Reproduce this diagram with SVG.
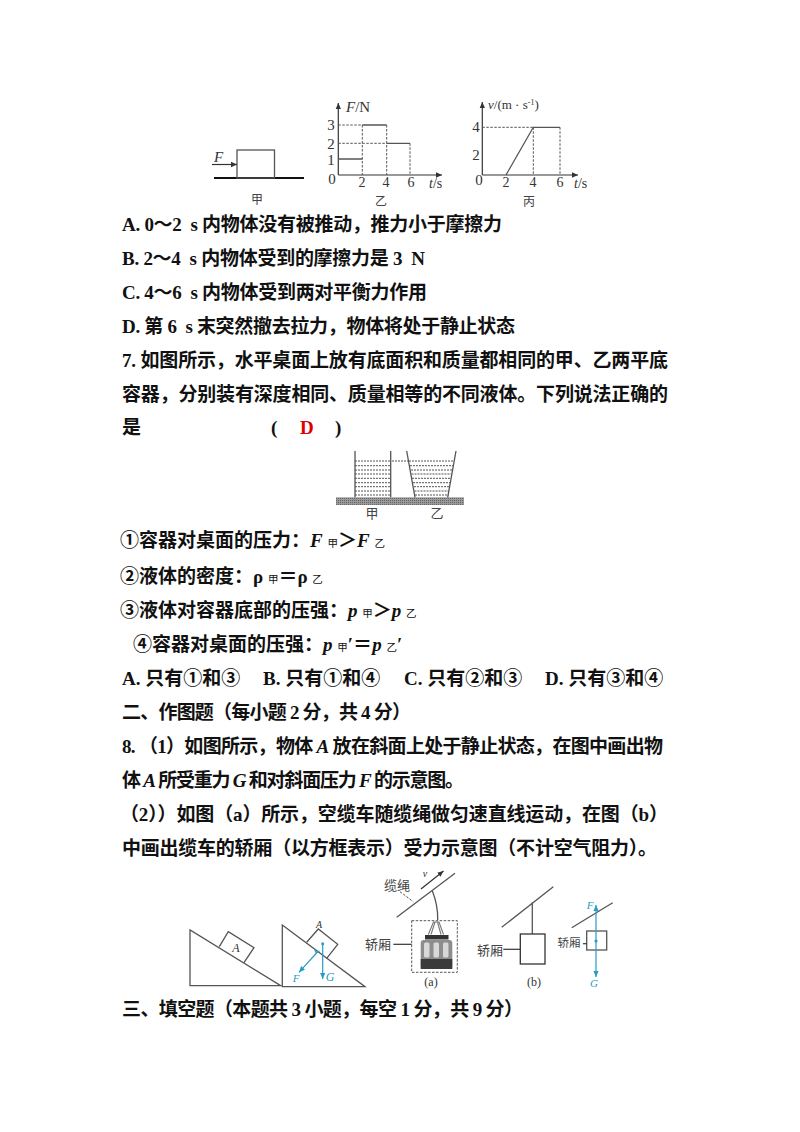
<svg xmlns="http://www.w3.org/2000/svg" width="800" height="1132" viewBox="0 0 800 1132">
<style>
.t{font-family:"Liberation Serif","Noto Sans CJK SC",serif;font-size:19px;font-weight:bold;fill:#111}
.i{font-style:italic}
.s{font-size:10.5px;font-weight:normal}
.n{font-family:"Liberation Serif",serif;font-size:15px;fill:#333}
.c{font-family:"Noto Sans CJK SC",sans-serif;font-size:13px;fill:#444}
.l{stroke:#333;stroke-width:1.2;fill:none}
.g{stroke:#555;stroke-width:1.3;fill:none}
.d{stroke:#555;stroke-width:1;stroke-dasharray:2.5 1.5;fill:none}
.lq{stroke:#555;stroke-width:1;stroke-dasharray:2 1;fill:none}
.b{stroke:#2a9cc4;stroke-width:1.2;fill:none}
.bt{font-family:"Liberation Serif",serif;font-style:italic;font-size:11px;fill:#2a9cc4}
.m{text-anchor:middle}
</style>
<defs>
<marker id="a" markerWidth="6" markerHeight="6" refX="5" refY="3" orient="auto"><path d="M0 .8L5 3L0 5.2z" fill="#333"/></marker>
<marker id="ab" markerWidth="6" markerHeight="6" refX="5" refY="3" orient="auto"><path d="M0 .8L5 3L0 5.2z" fill="#2a9cc4"/></marker>
<pattern id="gr" width="2" height="2" patternUnits="userSpaceOnUse"><rect width="2" height="2" fill="#999"/><rect width="1" height="1" fill="#666"/></pattern>
</defs>

<g id="fig-jia">
<line x1="214" y1="178" x2="304" y2="178" stroke="#111" stroke-width="2.2"/>
<rect x="237" y="150" width="37.5" height="28" class="g"/>
<line x1="212" y1="164.5" x2="237" y2="164.5" class="l" marker-end="url(#a)"/>
<text x="214" y="162" class="n i">F</text>
<text x="257" y="204" class="c m" style="font-size:12px">甲</text>
</g>

<g id="fig-yi">
<line x1="338.3" y1="175" x2="338.3" y2="103" class="l" marker-end="url(#a)"/>
<line x1="338.3" y1="175" x2="442" y2="175" class="l" marker-end="url(#a)"/>
<path d="M338.3 125H362.3M338.3 143.3H386.7M362.3 125V175M386.7 125V175M410 143.3V175" class="d"/>
<path d="M338.3 159H362.3M362.3 125H386.7M386.7 143.3H410" class="g"/>
<text x="346" y="112" class="n"><tspan class="i">F</tspan>/N</text>
<g class="n m"><text x="331" y="130">3</text><text x="331" y="149">2</text><text x="331" y="165">1</text><text x="332" y="184">0</text></g>
<g class="n m" style="font-size:14px"><text x="362" y="187">2</text><text x="386" y="187">4</text><text x="411" y="187">6</text></g>
<text x="429" y="188" class="n" style="font-size:14px"><tspan class="i">t</tspan>/s</text>
<text x="381" y="206" class="c m" style="font-size:12px">乙</text>
</g>

<g id="fig-bing">
<line x1="482.3" y1="175" x2="482.3" y2="102" class="l" marker-end="url(#a)"/>
<line x1="482.3" y1="175" x2="578" y2="175" class="l" marker-end="url(#a)"/>
<path d="M482.3 127.3H533.3M533.3 127.3V175" class="d"/>
<path d="M560 127.3V175" class="d" stroke-dasharray="1 1.5"/>
<path d="M506 175L533.3 127.3H560" class="g"/>
<text x="488" y="109" class="n" style="font-size:13px"><tspan class="i">v</tspan>/(m · s<tspan dy="-4" style="font-size:8px">-1</tspan><tspan dy="4">)</tspan></text>
<g class="n m"><text x="476" y="132">4</text><text x="476" y="160">2</text><text x="479" y="185">0</text></g>
<g class="n m" style="font-size:14px"><text x="506" y="187">2</text><text x="533" y="187">4</text><text x="560" y="187">6</text></g>
<text x="574" y="188" class="n" style="font-size:14px"><tspan class="i">t</tspan>/s</text>
<text x="529" y="206" class="c m" style="font-size:12px">丙</text>
</g>

<g id="text-options-6">
<text x="122" y="231" class="t" textLength="380">A. 0～2&#160;&#160;s 内物体没有被推动，推力小于摩擦力</text>
<text x="122" y="265" class="t" textLength="303">B. 2～4&#160;&#160;s 内物体受到的摩擦力是 3&#160;&#160;N</text>
<text x="122" y="299" class="t" textLength="305">C. 4～6&#160;&#160;s 内物体受到两对平衡力作用</text>
<text x="122" y="333" class="t" textLength="393">D. 第 6&#160;&#160;s 末突然撤去拉力，物体将处于静止状态</text>
</g>

<g id="text-q7">
<text x="122" y="367" class="t" textLength="546">7. 如图所示，水平桌面上放有底面积和质量都相同的甲、乙两平底</text>
<text x="122" y="401" class="t" textLength="546">容器，分别装有深度相同、质量相等的不同液体。下列说法正确的</text>
<text x="122" y="434" class="t">是</text>
<text x="271" y="434" class="t">(</text>
<text x="300" y="434" class="t" style="fill:#e00000">D</text>
<text x="335" y="434" class="t">)</text>
</g>

<g id="fig-containers">
<rect x="336" y="497.3" width="128" height="7.7" fill="url(#gr)"/>
<path d="M355 451V497.3M390.7 451V497.3M406.7 451L415 497.3M456 451L447.7 497.3" class="g"/>
<path d="M355 461H390.7M392 461H408M409 461H454M355 465.7H390.7M410 465.7H453M355 470H390.7M411 470H452M355 474H390.7M411.5 474H451.5M355 478.3H390.7M412 478.3H451M355 482.7H390.7M413 482.7H450M355 486.7H390.7M414 486.7H449.5M355 491H390.7M414.5 491H449M355 495H390.7M415 495H448.5" class="lq"/>
<text x="372" y="518" class="c m">甲</text>
<text x="437" y="518" class="c m">乙</text>
</g>

<g id="text-statements">
<text x="120" y="547" class="t">①容器对桌面的压力：<tspan class="i">F</tspan> <tspan class="s">甲</tspan>＞<tspan class="i">F</tspan> <tspan class="s">乙</tspan></text>
<text x="120" y="583" class="t">②液体的密度：ρ <tspan class="s">甲</tspan>＝ρ <tspan class="s">乙</tspan></text>
<text x="120" y="617" class="t">③液体对容器底部的压强：<tspan class="i">p</tspan> <tspan class="s">甲</tspan>＞<tspan class="i">p</tspan> <tspan class="s">乙</tspan></text>
<text x="133" y="651" class="t">④容器对桌面的压强：<tspan class="i">p</tspan> <tspan class="s">甲</tspan>′＝<tspan class="i">p</tspan> <tspan class="s">乙</tspan>′</text>
<text x="122" y="685" class="t">A. 只有①和③</text>
<text x="263" y="685" class="t">B. 只有①和④</text>
<text x="404" y="685" class="t">C. 只有②和③</text>
<text x="545" y="685" class="t">D. 只有③和④</text>
</g>

<g id="text-section2">
<text x="122" y="719" class="t" textLength="289">二、作图题（每小题 2 分，共 4 分）</text>
<text x="122" y="753" class="t" textLength="541">8. （1）如图所示，物体 <tspan class="i">A</tspan> 放在斜面上处于静止状态，在图中画出物</text>
<text x="122" y="787" class="t" textLength="342">体 <tspan class="i">A</tspan> 所受重力 <tspan class="i">G</tspan> 和对斜面压力 <tspan class="i">F</tspan> 的示意图。</text>
<text x="120" y="821" class="t" textLength="548">（2））如图（a）所示，空缆车随缆绳做匀速直线运动，在图（b）</text>
<text x="122" y="855" class="t" textLength="535">中画出缆车的轿厢（以方框表示）受力示意图（不计空气阻力）。</text>
</g>

<g id="fig-incline-1">
<path d="M190 930V985.7H280.7Z" class="g"/>
<path d="M219.3 946.7L228.3 931.7L254 947.7L244 962.7" class="g"/>
<text x="236" y="952" class="n i m" style="font-size:12px">A</text>
</g>

<g id="fig-incline-2">
<path d="M282.3 925V986.7H365Z" class="g"/>
<path d="M306.7 942.3L318.3 929L337.7 944.3L326.7 958.3" class="g"/>
<text x="319" y="928" class="n i m" style="font-size:10px">A</text>
<circle cx="322.7" cy="943.7" r="1.5" fill="#2a9cc4"/>
<line x1="322.7" y1="943.7" x2="322.7" y2="979" class="b" marker-end="url(#ab)"/>
<line x1="318.3" y1="951" x2="299" y2="972.3" class="b" marker-end="url(#ab)"/>
<path d="M314.5 949L316 952.5L319.5 951" class="b" stroke-width=".7"/>
<text x="296" y="982" class="bt m">F</text>
<text x="330" y="981" class="bt m" style="font-size:12px">G</text>
</g>

<g id="fig-a">
<path d="M396.7 917.3L455 873.3" class="g"/>
<line x1="421" y1="889" x2="443.5" y2="871" class="l" marker-end="url(#a)"/>
<text x="425" y="877" class="n i m" style="font-size:10px">v</text>
<text x="397" y="890" class="c m">缆绳</text>
<path d="M400 891.7L413.3 901.7" class="d"/>
<path d="M432.3 890.7Q438 905 437.7 920" class="g"/>
<rect x="411.7" y="920.7" width="45.6" height="51.6" class="d"/>
<text x="378" y="949" class="c m">轿厢</text>
<line x1="393.3" y1="944.3" x2="411.7" y2="944.3" class="l"/>
<g id="gondola">
<path d="M428.3 934.5L433.5 922H439L443.5 934.5M431 934.5L435 922M441 934.5L437.5 922" stroke="#777" stroke-width="1.1" fill="none"/>
<rect x="425" y="935" width="23.5" height="4.5" fill="#333"/>
<rect x="420.7" y="940" width="31.6" height="29" rx="3" fill="#8d8d8d"/>
<rect x="424" y="942.5" width="5.5" height="15" rx="1.5" fill="#d8d8d8"/>
<rect x="433.5" y="942.5" width="5.5" height="15" rx="1.5" fill="#d8d8d8"/>
<rect x="443" y="942.5" width="5.5" height="15" rx="1.5" fill="#d8d8d8"/>
<rect x="420.7" y="959" width="31.6" height="10" fill="#3a3a3a"/>
</g>
<text x="431" y="986" class="n m" style="font-size:12px">(a)</text>
</g>

<g id="fig-b">
<path d="M501.7 927.3L553.3 886.7M532.3 902.3V934" class="g"/>
<rect x="520.3" y="934" width="24.7" height="30" stroke="#333" stroke-width="1.3" fill="none"/>
<text x="490" y="955" class="c m">轿厢</text>
<line x1="503.3" y1="949.3" x2="520.3" y2="949.3" class="l"/>
<text x="534" y="986" class="n m" style="font-size:12px">(b)</text>
</g>

<g id="fig-c">
<path d="M571.7 927.7L612.7 902.7" class="g"/>
<rect x="586.7" y="931" width="20" height="19" class="g"/>
<text x="569" y="947" class="c m" style="font-size:11.5px">轿厢</text>
<line x1="583" y1="943.7" x2="586.7" y2="943.7" class="l"/>
<line x1="596" y1="941" x2="596" y2="905" class="b" marker-end="url(#ab)"/>
<line x1="596" y1="941" x2="596" y2="977" class="b" marker-end="url(#ab)"/>
<circle cx="596" cy="941" r="1.6" fill="#2a9cc4"/>
<text x="590" y="909" class="bt m">F</text>
<text x="594" y="987" class="bt m">G</text>
</g>

<g id="text-section3">
<text x="122" y="1016" class="t" textLength="401">三、填空题（本题共 3 小题，每空 1 分，共 9 分）</text>
</g>
</svg>
